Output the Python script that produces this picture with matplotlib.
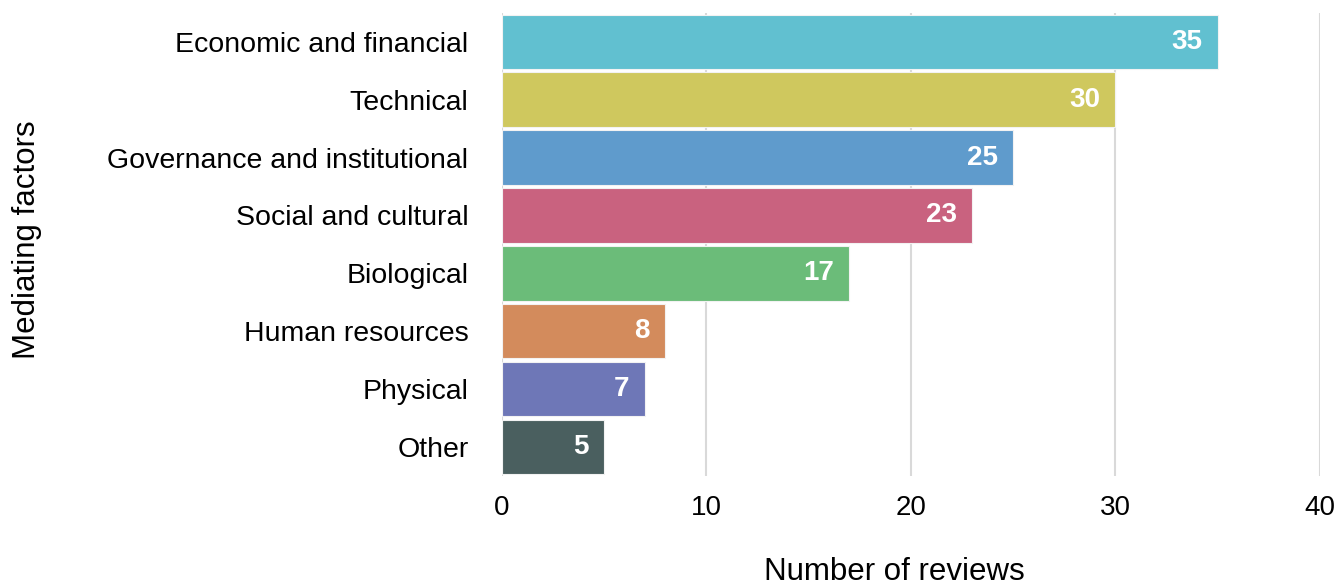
import matplotlib
matplotlib.use("Agg")
import matplotlib.pyplot as plt

plt.rcParams['font.family'] = ['Liberation Sans', 'DejaVu Sans']

categories = ["Economic and financial", "Technical", "Governance and institutional",
              "Social and cultural", "Biological", "Human resources", "Physical", "Other"]
reviews = [35, 30, 25, 23, 17, 8, 7, 5]
colors = ["#61C0D0", "#CFC85E", "#5F9BCC", "#C9627F", "#6BBC79", "#D38B5C", "#6E77B7", "#4A5F5F"]
x_ticks = [0, 10, 20, 30, 40]

fig = plt.figure(figsize=(13.38, 5.84), dpi=100)
ax = fig.add_axes([0.375, 0.185, 0.6115, 0.793])

ypos = list(range(len(categories)))
bars = ax.barh(ypos, reviews, height=0.94, color=colors, edgecolor="#F2F2F2",
               linewidth=0.8, zorder=3)

for y, v in zip(ypos, reviews):
    ax.annotate(str(v), xy=(v, y), xytext=(-11, 0), textcoords="offset points",
                ha="right", va="center", color="white", fontsize=20,
                fontweight="bold", zorder=4)

ax.set_ylim(len(categories) - 0.5, -0.5)
ax.set_xlim(0, 40)
ax.set_xticks(x_ticks)
ax.set_yticks(ypos)
ax.set_yticklabels(categories, fontsize=20.5)
ax.tick_params(axis="x", labelsize=20, length=0, pad=14)
ax.tick_params(axis="y", length=0, pad=24)

ax.grid(axis="x", color="#D9D9D9", linewidth=1.5, zorder=0)
for s in ax.spines.values():
    s.set_visible(False)

ax.set_xlabel("Number of reviews", fontsize=22.5)
ax.xaxis.set_label_coords(0.48, -0.175)
ax.set_ylabel("Mediating factors", fontsize=22.5)
ax.yaxis.set_label_coords(-0.562, 0.51)

fig.savefig("out.png", dpi=100)
